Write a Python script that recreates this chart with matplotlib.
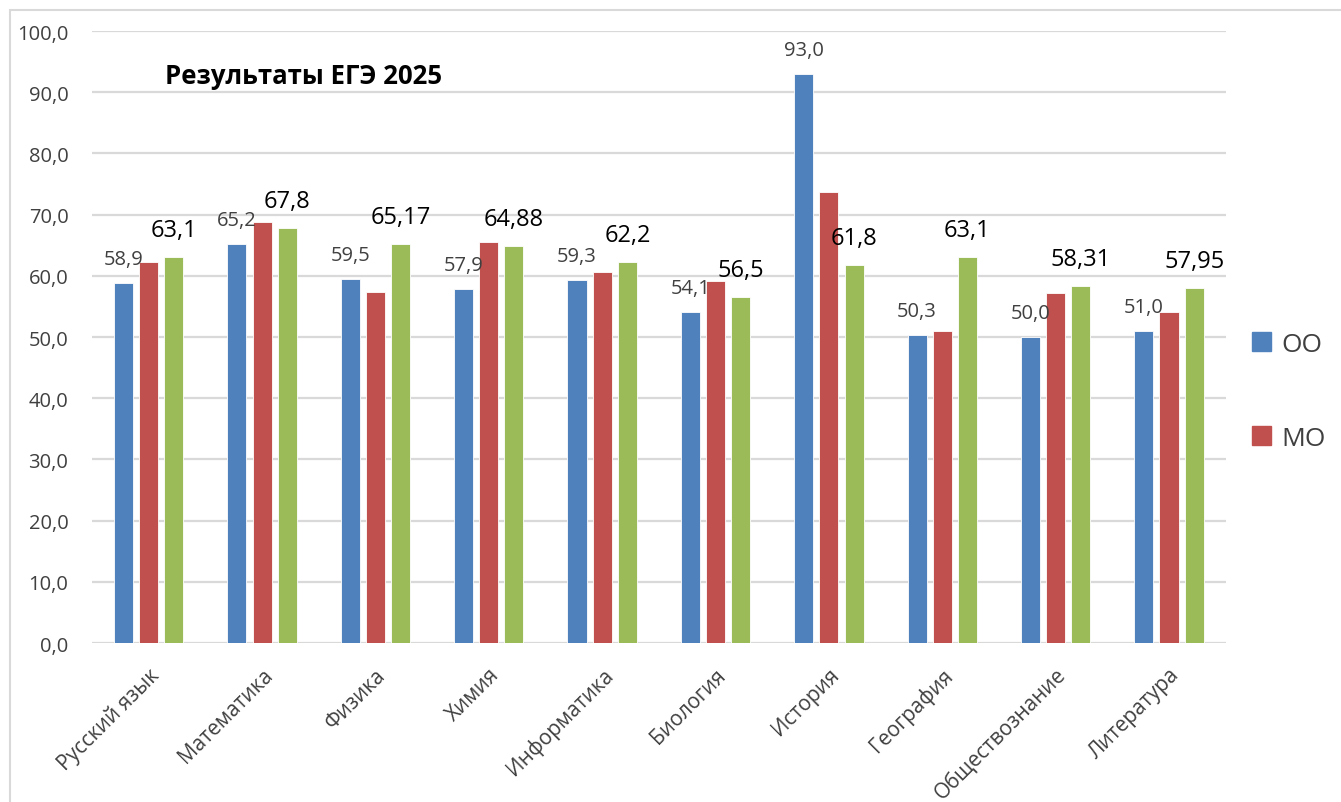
import matplotlib
matplotlib.use("Agg")
import matplotlib.pyplot as plt
import numpy as np
from matplotlib.patches import Rectangle, Patch

plt.rcParams['font.family'] = ['Open Sans', 'DejaVu Sans']

# ── Data ───────────────────────────────────────────────────────────────────────
subjects = ["Русский язык", "Математика", "Физика", "Химия", "Информатика",
            "Биология", "История", "География", "Обществознание", "Литература"]
oo   = [58.9, 65.2, 59.5, 57.9, 59.3, 54.1, 93.0, 50.3, 50.0, 51.0]
mo   = [62.2, 68.8, 57.4, 65.5, 60.6, 59.2, 73.7, 51.0, 57.2, 54.1]
reg  = [63.1, 67.8, 65.17, 64.88, 62.2, 56.5, 61.8, 63.1, 58.31, 57.95]
oo_labels  = ["58,9", "65,2", "59,5", "57,9", "59,3", "54,1", "93,0", "50,3", "50,0", "51,0"]
reg_labels = ["63,1", "67,8", "65,17", "64,88", "62,2", "56,5", "61,8", "63,1", "58,31", "57,95"]
yticks = np.arange(0, 101, 10)

C_BLUE, C_RED, C_GREEN = "#4F81BD", "#C0504D", "#9BBB59"

# ── Plot ───────────────────────────────────────────────────────────────────────
fig = plt.figure(figsize=(13.41, 8.03), dpi=100)
ax = fig.add_axes([0.0686, 0.198, 0.8454, 0.762])

# outer chart frame
fig.patches.append(Rectangle((10 / 1341, -0.05), 1.2, 1 - 11 / 803 + 0.05,
                             transform=fig.transFigure, fill=False,
                             edgecolor="#d9d9d9", lw=1.5, zorder=0))

x = np.arange(len(subjects))
w, step = 0.168, 0.222
ax.bar(x - step, oo,  w, color=C_BLUE,  edgecolor="white", lw=0.6, zorder=3)
ax.bar(x,        mo,  w, color=C_RED,   edgecolor="white", lw=0.6, zorder=3)
ax.bar(x + step, reg, w, color=C_GREEN, edgecolor="white", lw=0.6, zorder=3)

for xi, v, s in zip(x, oo, oo_labels):
    ax.annotate(s, (xi - step, v), xytext=(0, 10), textcoords="offset points",
                ha="center", va="bottom", fontsize=14.5, color="#404040", zorder=4)
for xi, v, s in zip(x, reg, reg_labels):
    ax.annotate(s, (xi + step, v), xytext=(0, 11), textcoords="offset points",
                ha="center", va="bottom", fontsize=17, color="black", zorder=4)

ax.set_ylim(0, 100)
ax.set_xlim(-0.5, len(subjects) - 0.5)
ax.set_yticks(yticks)
ax.set_yticklabels([f"{t:.1f}".replace(".", ",") for t in yticks],
                   fontsize=14.5, color="#404040")
ax.set_xticks(x)
ax.set_xticklabels(subjects, rotation=45, ha="right", rotation_mode="anchor",
                   fontsize=15, color="#404040")
ax.tick_params(axis="both", length=0)
ax.tick_params(axis="y", pad=17)
ax.tick_params(axis="x", pad=15)
ax.grid(axis="y", color="#d9d9d9", lw=1.6, zorder=0)
for sp in ax.spines.values():
    sp.set_visible(False)

ax.text(0.064, 0.927, "Результаты ЕГЭ 2025", transform=ax.transAxes,
        fontsize=18.5, fontweight="bold", ha="left", va="center")

handles = [Patch(color=C_BLUE), Patch(color=C_RED)]
fig.legend(handles, ["ОО", "МО"], loc="upper left",
           bbox_to_anchor=(0.916, 0.615), frameon=False, fontsize=19,
           labelspacing=2.6, handlelength=0.7, handleheight=0.7,
           handletextpad=0.4, labelcolor="#404040")

plt.savefig("out.png", dpi=100)
